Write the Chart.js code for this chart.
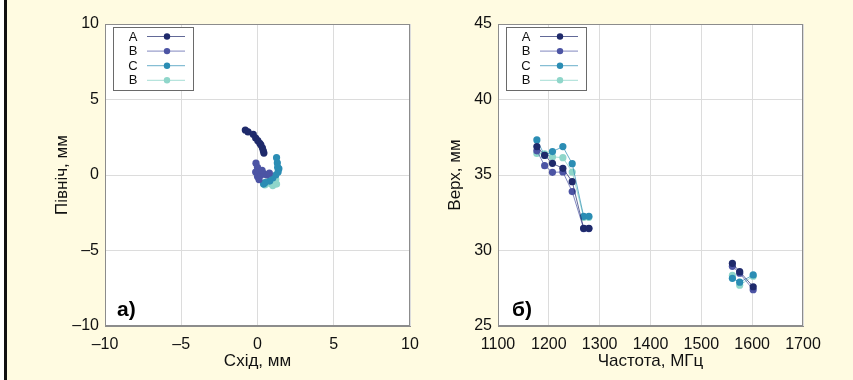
<!DOCTYPE html>
<html><head><meta charset="utf-8">
<script src="https://cdn.jsdelivr.net/npm/chart.js@4/dist/chart.umd.min.js"></script>
<style>
html,body{margin:0;padding:0;background:#fffbe1;width:853px;height:380px;overflow:hidden;}
#strip{position:absolute;left:0;top:0;width:4px;height:380px;background:#ffffff;}
#bar{position:absolute;left:4px;top:0;width:3px;height:380px;background:#111;}
#c1{position:absolute;left:0;top:0;}
#c2{position:absolute;left:430px;top:0;}
</style></head><body>
<div id="strip"></div><div id="bar"></div>
<canvas id="c1" width="430" height="380"></canvas>
<canvas id="c2" width="423" height="380"></canvas>
<script>
// ---- legend / series ----
const seriesLabels = ['A', 'B', 'C', 'B'];
const seriesColors = ['#1f2a6b', '#4c54a4', '#2b8db4', '#8fd6ca'];
const lineColors   = ['rgba(31,42,107,0.7)', 'rgba(76,84,164,0.7)', 'rgba(43,141,180,0.7)', 'rgba(143,214,202,0.8)'];

// ---- panel а): East / North, mm ----
const eastA  = [-0.80, -0.62, -0.28, -0.12, 0.02, 0.15, 0.22, 0.32, 0.42, 0.38];
const northA = [2.98, 2.85, 2.70, 2.45, 2.27, 2.10, 2.00, 1.80, 1.45, 1.60];
const eastB  = [-0.10, 0.00, -0.12, 0.00, 0.10, 0.22, 0.40, 0.60, 0.78, 0.30];
const northB = [0.78, 0.50, 0.20, -0.10, -0.30, -0.02, 0.10, 0.00, 0.12, 0.30];
const eastC  = [1.25, 1.30, 1.40, 1.35, 1.00, 0.80, 0.40, 0.50, 1.20, 1.32];
const northC = [1.15, 0.80, 0.42, 0.20, -0.20, -0.40, -0.60, -0.50, 0.00, 0.50];
const eastD  = [0.48, 0.70, 0.90, 1.10, 1.25, 1.00, 0.80, 1.20, 0.60, 0.40];
const northD = [-0.66, -0.50, -0.40, -0.50, -0.60, -0.70, -0.55, -0.30, -0.45, -0.55];
const enTicks = [-10, -5, 0, 5, 10];

// ---- panel б): Up vs frequency ----
const freqMHz = [1176.45, 1191.795, 1207.14, 1227.6, 1246, 1268.52, 1278.75, 1561.098, 1575.42, 1602];
const upA = [36.88, 36.30, 35.77, 35.44, 34.56, 31.47, 31.47, 29.15, 28.60, 27.60];
const upB = [36.60, 35.62, 35.18, 35.20, 33.90, 31.45, 31.45, 28.95, 28.50, 27.40];
const upC = [37.32, 36.30, 36.55, 36.88, 35.75, 32.26, 32.26, 28.16, 27.90, 28.38];
const upD = [36.43, 36.40, 36.20, 36.15, 35.20, 32.20, 32.20, 28.35, 27.70, 28.30];
const freqTicks = [1100, 1200, 1300, 1400, 1500, 1600, 1700];
const upTicks = [25, 30, 35, 40, 45];

const FONT = "'Liberation Sans', Arial, sans-serif";
const fmt = v => String(v).replace('-', '\u2013');

function pts(xs, ys) { return xs.map((x, i) => ({ x: x, y: ys[i] })); }

function makeDatasets(pairs) {
  return pairs.map((p, i) => ({
    label: seriesLabels[i],
    data: pts(p[0], p[1]),
    showLine: true,
    borderColor: lineColors[i],
    borderWidth: 1,
    pointBackgroundColor: seriesColors[i],
    pointBorderColor: seriesColors[i],
    pointBorderWidth: 0,
    pointRadius: 3.6,
    segment: {
      borderColor: ctx => (Math.abs(ctx.p1.parsed.x - ctx.p0.parsed.x) > 100 ? 'rgba(0,0,0,0)' : undefined)
    }
  }));
}

const panelPlugin = {
  id: 'panelPlugin',
  beforeDraw(chart) {
    const a = chart.chartArea, ctx = chart.ctx;
    ctx.save();
    ctx.fillStyle = '#ffffff';
    ctx.fillRect(a.left, a.top, a.right - a.left, a.bottom - a.top);
    ctx.restore();
  },
  afterDatasetsDraw(chart, args, opts) {
    const a = chart.chartArea, ctx = chart.ctx;
    ctx.save();
    ctx.strokeStyle = '#8c8c8c';
    ctx.lineWidth = 1;
    ctx.strokeRect(Math.round(a.left) + 0.5, Math.round(a.top) + 0.5, Math.round(a.right - a.left) - 1, Math.round(a.bottom - a.top) - 1);
    const x0 = Math.round(a.left + 8), y0 = Math.round(a.top + 3), w = 80, h = 63;
    ctx.fillStyle = '#ffffff';
    ctx.fillRect(x0, y0, w, h);
    ctx.strokeStyle = '#6a6a6a';
    ctx.strokeRect(x0 + 0.5, y0 + 0.5, w, h);
    chart.data.datasets.forEach((ds, i) => {
      const y = y0 + 9.5 + i * 14.6;
      ctx.fillStyle = '#111';
      ctx.font = '13px ' + FONT;
      ctx.textAlign = 'center';
      ctx.textBaseline = 'middle';
      ctx.fillText(ds.label, x0 + 20, y + 0.5);
      ctx.strokeStyle = ds.borderColor;
      ctx.lineWidth = 1;
      ctx.beginPath(); ctx.moveTo(x0 + 34, y); ctx.lineTo(x0 + 72, y); ctx.stroke();
      ctx.fillStyle = ds.pointBackgroundColor;
      ctx.beginPath(); ctx.arc(x0 + 54, y, 3.2, 0, Math.PI * 2); ctx.fill();
    });
    ctx.fillStyle = '#000';
    ctx.font = 'bold 21px "Liberation Sans", sans-serif';
    ctx.textAlign = 'left';
    ctx.textBaseline = 'alphabetic';
    ctx.fillText(opts.letter, a.left + opts.letterDx, a.bottom - 10);
    ctx.restore();
  }
};

function axis(min, max, ticksArr, title, isY, yTitlePad, size) {
  return {
    type: 'linear', min: min, max: max,
    afterBuildTicks: s => { s.ticks = ticksArr.map(v => ({ value: v })); },
    ticks: { color: '#111', font: { family: FONT, size: 16 }, padding: isY ? 6 : 9, callback: v => fmt(v), maxRotation: 0, autoSkip: false },
    grid: { color: '#dcdcdc', drawTicks: false, lineWidth: 1 },
    border: { color: '#8c8c8c' },
    title: { display: true, text: title, color: '#111', font: { family: FONT, size: 17 },
             padding: isY ? { top: yTitlePad, bottom: 0 } : { top: 0, bottom: 8 } },
    afterFit: s => { if (isY) s.width = size; else s.height = size; }
  };
}

Chart.register(panelPlugin);

new Chart(document.getElementById('c1'), {
  type: 'scatter',
  data: { datasets: makeDatasets([[eastA, northA], [eastB, northB], [eastC, northC], [eastD, northD]]) },
  options: {
    responsive: false, animation: false,
    layout: { padding: { top: 24, right: 20, left: 0, bottom: 0 } },
    plugins: { legend: { display: false }, tooltip: { enabled: false },
               panelPlugin: { letter: 'а)', letterDx: 12 } },
    scales: {
      x: axis(-10, 10, enTicks, 'Схід, мм', false, 0, 54),
      y: axis(-10, 10, enTicks, 'Північ, мм', true, 52, 105)
    }
  }
});

new Chart(document.getElementById('c2'), {
  type: 'scatter',
  data: { datasets: makeDatasets([[freqMHz, upA], [freqMHz, upB], [freqMHz, upC], [freqMHz, upD]]) },
  options: {
    responsive: false, animation: false,
    layout: { padding: { top: 24, right: 50, left: 0, bottom: 0 } },
    plugins: { legend: { display: false }, tooltip: { enabled: false },
               panelPlugin: { letter: 'б)', letterDx: 14 } },
    scales: {
      x: axis(1100, 1700, freqTicks, 'Частота, МГц', false, 0, 54),
      y: axis(25, 45, upTicks, 'Верх, мм', true, 15, 68)
    }
  }
});
</script>
</body></html>
